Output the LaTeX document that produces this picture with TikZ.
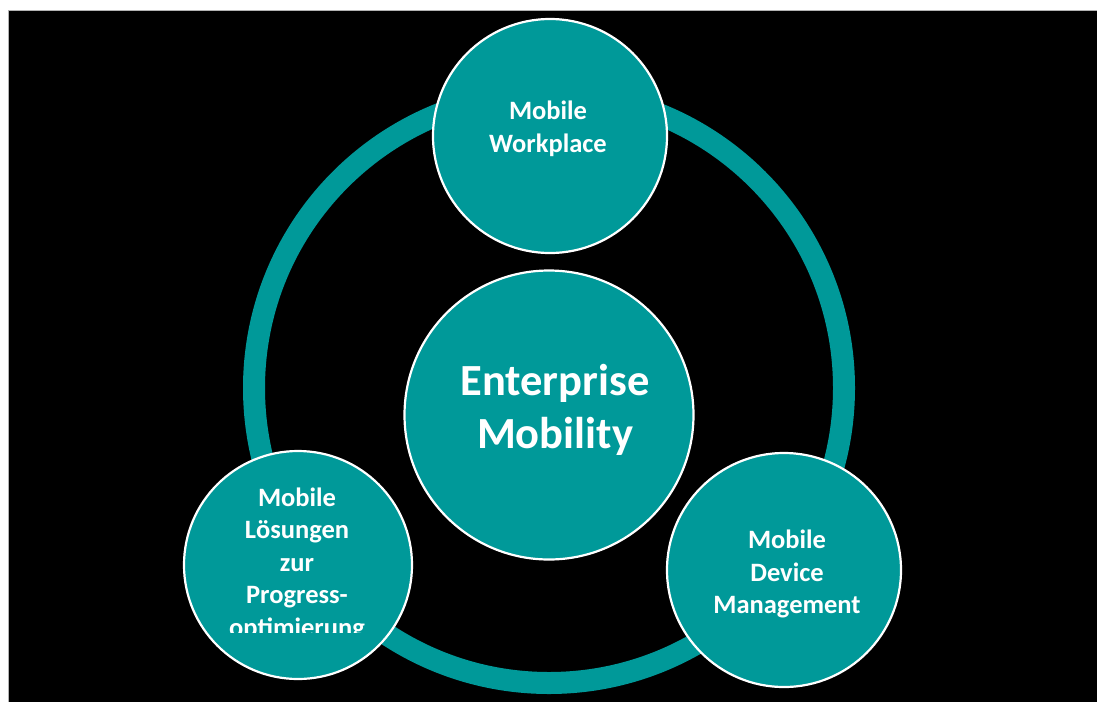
\documentclass[tikz,border=0pt]{standalone}
\usepackage{fontspec}
\setmainfont{Carlito}
\definecolor{teal}{RGB}{0,153,153}
\begin{document}
\begin{tikzpicture}[x=1pt,y=-1pt,
  bubble/.style={circle,draw=white,line width=2.2pt,fill=teal,inner sep=0pt},
  smalltext/.style={text=white,align=center,inner sep=0pt,
    font=\bfseries\fontsize{26.5}{32.5}\selectfont},
  bigtext/.style={text=white,align=center,inner sep=0pt,
    font=\bfseries\fontsize{44.5}{53}\selectfont}]
  \useasboundingbox (0,0) rectangle (1097,702);
  % page background and dark panel
  \fill[white] (0,0) rectangle (1097,702);
  \fill[black] (8,10) rectangle (1097,702);
  \draw[gray!60,line width=0.8pt] (8,702) -- (8,10) -- (1097,10);
  % ring behind the bubbles
  \node[circle,draw=teal,line width=22pt,minimum size=590pt,inner sep=0pt] (ring) at (549,388) {};
  % bubbles
  \node[bubble,minimum size=289pt] (core) at (549,415) {};
  \node[bubble,minimum size=234pt] (work) at (550,136) {};
  \node[bubble,minimum size=228pt] (loes) at (298,565) {};
  \node[bubble,minimum size=234pt] (mdm) at (784,570) {};
  % labels
  \node[bigtext] (coretext) at (555,410) {Enterprise\\Mobility};
  \node[smalltext] (worktext) at (548,129) {Mobile\\Workplace};
  \begin{scope}
    \clip (0,0) rectangle (1097,632);
    \node[smalltext] (loestext) at (297,564) {Mobile\\Lösungen\\zur\\Progress-\\optimierung};
  \end{scope}
  \node[smalltext] (mdmtext) at (787,574) {Mobile\\Device\\Management};
\end{tikzpicture}
\end{document}
